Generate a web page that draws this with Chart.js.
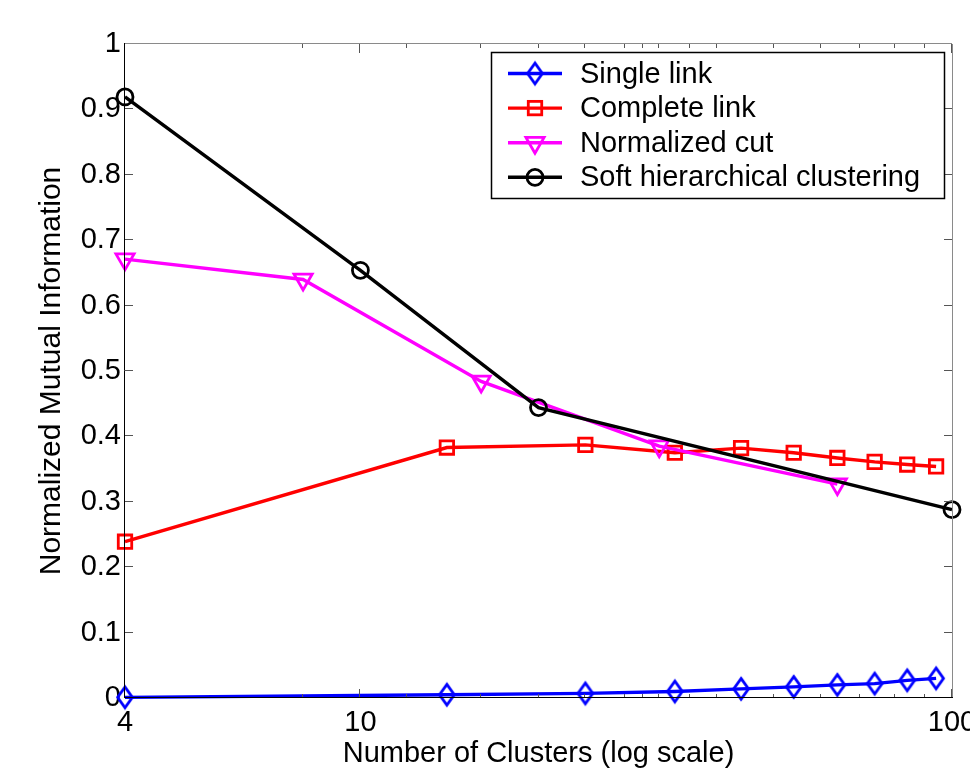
<!DOCTYPE html>
<html><head><meta charset="utf-8">
<script src="https://cdn.jsdelivr.net/npm/chart.js@4.4.0/dist/chart.umd.min.js"></script>
<style>html,body{margin:0;padding:0;background:#fff;overflow:hidden}#wrap{position:relative;width:970px;height:768px}</style>
</head><body><div id="wrap"><canvas id="c" width="970" height="768"></canvas></div>
<script>
// ---- data ----
const clusters = [4, 14, 24, 34, 44, 54, 64, 74, 84, 94];
const singleLink = [0.001, 0.005, 0.007, 0.010, 0.014, 0.017, 0.020, 0.022, 0.027, 0.030];
const completeLink = [0.239, 0.383, 0.387, 0.375, 0.382, 0.375, 0.367, 0.361, 0.357, 0.354];
const ncutClusters = [4, 8, 16, 32, 64];
const normalizedCut = [0.671, 0.640, 0.484, 0.385, 0.327];
const softClusters = [4, 10, 20, 100];
const softHierarchical = [0.919, 0.654, 0.444, 0.288];
const seriesNames = ['Single link', 'Complete link', 'Normalized cut', 'Soft hierarchical clustering'];
const xTickValues = [4, 8, 10, 12, 16, 20, 24, 28, 30, 32, 36, 40, 50, 60, 70, 80, 90, 100];
const xTickLabels = {4: '4', 10: '10', 100: '100'};
const yTickValues = [0, 0.1, 0.2, 0.3, 0.4, 0.5, 0.6, 0.7, 0.8, 0.9, 1];
const yTickLabels = ['0', '0.1', '0.2', '0.3', '0.4', '0.5', '0.6', '0.7', '0.8', '0.9', '1'];
const xTitle = 'Number of Clusters (log scale)';
const yTitle = 'Normalized Mutual Information';

const FONT = '"Liberation Sans", Arial, Helvetica, sans-serif';

function pts(xs, ys) { return xs.map((x, i) => ({x: x, y: ys[i]})); }

function makeDiamond(color) {
  const c = document.createElement('canvas');
  c.width = 22; c.height = 28;
  const g = c.getContext('2d');
  g.strokeStyle = color; g.lineWidth = 2.8; g.lineJoin = 'miter';
  g.beginPath();
  g.moveTo(11, 3.6); g.lineTo(18.4, 14); g.lineTo(11, 24.4); g.lineTo(3.6, 14); g.closePath();
  g.stroke();
  return c;
}
const diamondImg = makeDiamond('#0000ff');

const datasets = [
  {label: seriesNames[0], data: pts(clusters, singleLink), borderColor: '#0000ff',
   pointStyle: diamondImg, pointRadius: 10, order: 4},
  {label: seriesNames[1], data: pts(clusters, completeLink), borderColor: '#ff0000',
   pointStyle: 'rect', pointRadius: 9.5, order: 3},
  {label: seriesNames[2], data: pts(ncutClusters, normalizedCut), borderColor: '#ff00ff',
   pointStyle: 'triangle', pointRotation: 180, pointRadius: 10.5, order: 2},
  {label: seriesNames[3], data: pts(softClusters, softHierarchical), borderColor: '#000000',
   pointStyle: 'circle', pointRadius: 8, order: 1}
];
datasets.forEach(d => {
  d.backgroundColor = 'rgba(0,0,0,0)';
  d.pointBackgroundColor = 'rgba(0,0,0,0)'; d.pointBorderColor = d.borderColor;
  d.pointBorderWidth = 2.8; d.borderWidth = 3.4;
  d.tension = 0; d.clip = false; d.fill = false;
});

function drawMarker(ctx, ds, x, y) {
  const st = ds.pointStyle, r = ds.pointRadius;
  ctx.save();
  ctx.strokeStyle = ds.borderColor;
  ctx.lineWidth = ds.pointBorderWidth || 2.8;
  if (st instanceof HTMLCanvasElement) {
    ctx.drawImage(st, x - st.width / 2, y - st.height / 2);
  } else if (st === 'circle') {
    ctx.beginPath(); ctx.arc(x, y, r, 0, Math.PI * 2); ctx.stroke();
  } else if (st === 'rect') {
    const s = r * Math.SQRT1_2;
    ctx.strokeRect(x - s, y - s, 2 * s, 2 * s);
  } else if (st === 'triangle') {
    let a = (ds.pointRotation || 0) * Math.PI / 180;
    ctx.beginPath();
    for (let k = 0; k < 3; k++) {
      const px = x + Math.sin(a) * r, py = y - Math.cos(a) * r;
      if (k === 0) ctx.moveTo(px, py); else ctx.lineTo(px, py);
      a += 2 * Math.PI / 3;
    }
    ctx.closePath(); ctx.stroke();
  }
  ctx.restore();
}

const boxPlugin = {
  id: 'matlabBox',
  afterDatasetsDraw(chart) {
    const ctx = chart.ctx, a = chart.chartArea;
    const xs = chart.scales.x, ys = chart.scales.y;
    ctx.save();
    ctx.lineWidth = 1;
    ctx.strokeStyle = '#555';
    ctx.beginPath();
    xs.ticks.forEach(t => {
      const px = Math.round(xs.getPixelForValue(t.value)) - 0.5;
      const len = (t.value === 10 || t.value === 100) ? 9 : 4;
      ctx.moveTo(px, a.bottom); ctx.lineTo(px, a.bottom - len);
      ctx.moveTo(px, a.top); ctx.lineTo(px, a.top + len);
    });
    ys.ticks.forEach(t => {
      const py = Math.round(ys.getPixelForValue(t.value)) - 0.5;
      ctx.moveTo(a.left, py); ctx.lineTo(a.left + 8, py);
      ctx.moveTo(a.right, py); ctx.lineTo(a.right - 8, py);
    });
    ctx.stroke();
    ctx.strokeStyle = '#8a8a8a';
    ctx.beginPath();
    ctx.moveTo(a.left, a.top - 0.5); ctx.lineTo(a.right, a.top - 0.5);
    ctx.moveTo(a.right + 0.5, a.top); ctx.lineTo(a.right + 0.5, a.bottom);
    ctx.stroke();
    ctx.strokeStyle = '#000';
    ctx.beginPath();
    ctx.moveTo(a.left - 0.5, a.top - 1); ctx.lineTo(a.left - 0.5, a.bottom);
    ctx.moveTo(a.left - 1, a.bottom - 0.5); ctx.lineTo(a.right + 1, a.bottom - 0.5);
    ctx.stroke();
    ctx.restore();
  }
};

const legendPlugin = {
  id: 'insideLegend',
  afterDraw(chart) {
    const ctx = chart.ctx;
    const L = 491, T = 52, R = 945, B = 199;
    ctx.save();
    ctx.fillStyle = '#fff';
    ctx.fillRect(L, T, R - L, B - T);
    ctx.strokeStyle = '#000'; ctx.lineWidth = 1.5;
    ctx.strokeRect(L + 0.5, T + 0.5, R - L - 1, B - T - 1);
    ctx.font = '29px ' + FONT;
    ctx.textBaseline = 'middle'; ctx.textAlign = 'left';
    chart.data.datasets.forEach((ds, i) => {
      const y = T + 21.5 + i * 34.6;
      ctx.strokeStyle = ds.borderColor; ctx.lineWidth = 3.4;
      ctx.beginPath(); ctx.moveTo(508, y); ctx.lineTo(562, y); ctx.stroke();
      drawMarker(ctx, ds, 535, y);
      ctx.fillStyle = '#000';
      ctx.fillText(ds.label, 580, y + 1);
    });
    ctx.restore();
  }
};

new Chart(document.getElementById('c').getContext('2d'), {
  type: 'line',
  data: {datasets: datasets},
  options: {
    responsive: false, animation: false, devicePixelRatio: 1, events: [],
    layout: {padding: {left: 0, top: 44, right: 18, bottom: 0}},
    plugins: {legend: {display: false}, tooltip: {enabled: false}},
    scales: {
      x: {
        type: 'logarithmic', min: 4, max: 100, bounds: 'data', position: 'bottom',
        grid: {display: false, drawTicks: false}, border: {display: false},
        afterBuildTicks: s => { s.ticks = xTickValues.map(v => ({value: v})); },
        afterFit: s => { s.height = 70; s.paddingLeft = 0; s.paddingRight = 0; },
        ticks: {autoSkip: false, maxRotation: 0, minRotation: 0, padding: 8, color: '#000',
                font: {family: FONT, size: 29},
                callback: v => (xTickLabels[v] !== undefined ? xTickLabels[v] : '')},
        title: {display: true, text: xTitle, color: '#000', font: {family: FONT, size: 29, lineHeight: 1},
                padding: {top: 0, bottom: 0}}
      },
      y: {
        type: 'linear', min: 0, max: 1, position: 'left',
        grid: {display: false, drawTicks: false}, border: {display: false},
        afterBuildTicks: s => { s.ticks = yTickValues.map(v => ({value: v})); },
        afterFit: s => { s.width = 125; },
        ticks: {padding: 4, color: '#000', font: {family: FONT, size: 29},
                callback: (v, i) => yTickLabels[i]},
        title: {display: true, text: yTitle, color: '#000', font: {family: FONT, size: 30, lineHeight: 1},
                padding: {top: 37, bottom: 0}}
      }
    }
  },
  plugins: [boxPlugin, legendPlugin]
});
</script>
</body></html>
